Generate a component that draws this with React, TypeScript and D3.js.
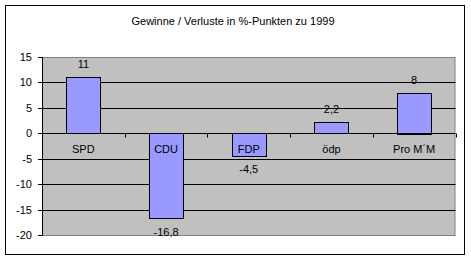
import React from "react";
import * as d3 from "d3";

const categories = ["SPD", "CDU", "FDP", "ödp", "Pro M´M"];
const values = [11, -16.8, -4.5, 2.2, 8];
const yTicks = [15, 10, 5, 0, -5, -10, -15, -20];
const title = "Gewinne / Verluste in %-Punkten zu 1999";

export default function App() {
  const W = 471, H = 261;
  const left = 42, right = 455.5, top = 57, bottom = 235;
  const x = d3.scaleBand<string>().domain(categories).range([left, right]).paddingInner(0.59).paddingOuter(0.295);
  const xb = d3.scaleBand<string>().domain(categories).range([left, right]);
  const y = d3.scaleLinear().domain([-20, 15]).range([bottom, top]);
  const fmt = (v: number) => String(v).replace(".", ",");
  const font = "'Liberation Sans', Arial, sans-serif";
  const y0 = Math.round(y(0)) + 0.5;
  return (
    <svg width={W} height={H} style={{ position: "absolute", left: 0, top: 0 }} fontFamily={font} fontSize={11}>
      <rect x={0} y={0} width={W} height={H} fill="#fff" />
      <rect x={5.5} y={5.5} width={459} height={249} fill="#fff" stroke="#000" />
      <text x={233} y={25} textAnchor="middle" fontSize={11}>{title}</text>
      <rect x={left + 0.5} y={top + 0.5} width={right - left - 1} height={bottom - top} fill="#c0c0c0" stroke="#808080" />
      {yTicks.filter(t => t !== 15 && t !== -20 && t !== 0).map(t => (
        <line key={t} x1={left} x2={right} y1={Math.round(y(t)) + 0.5} y2={Math.round(y(t)) + 0.5} stroke="#000" />
      ))}
      <line x1={left + 0.5} x2={left + 0.5} y1={top} y2={bottom + 1} stroke="#000" />
      {yTicks.map(t => (
        <g key={"t" + t}>
          <line x1={left - 4} x2={left} y1={Math.round(y(t)) + 0.5} y2={Math.round(y(t)) + 0.5} stroke="#000" />
          <text x={32} y={y(t) + 4} textAnchor="end">{t}</text>
        </g>
      ))}
      {categories.map((c, i) => {
        const v = values[i];
        const y1 = y(Math.max(0, v)), y2 = y(Math.min(0, v));
        return (
          <rect key={c} x={Math.round(x(c)!) + 0.5} y={Math.round(y1) + 0.5} width={Math.round(x.bandwidth())} height={Math.round(y2 - y1)} fill="#9999ff" stroke="#000" />
        );
      })}
      <line x1={left} x2={right} y1={y0} y2={y0} stroke="#000" />
      {categories.map((c, i) => (
        <line key={"ct" + c} x1={Math.round(xb(c)! + xb.bandwidth()) + 0.5} x2={Math.round(xb(c)! + xb.bandwidth()) + 0.5} y1={y0} y2={y0 + 4} stroke="#000" />
      ))}
      {categories.map((c, i) => (
        <text key={"cl" + c} x={xb(c)! + xb.bandwidth() / 2} y={153} textAnchor="middle">{c}</text>
      ))}
      {categories.map((c, i) => {
        const v = values[i];
        const ly = v >= 0 ? y(v) - 9 : y(v) + 17;
        return <text key={"dl" + c} x={xb(c)! + xb.bandwidth() / 2} y={ly} textAnchor="middle">{fmt(v)}</text>;
      })}
    </svg>
  );
}
